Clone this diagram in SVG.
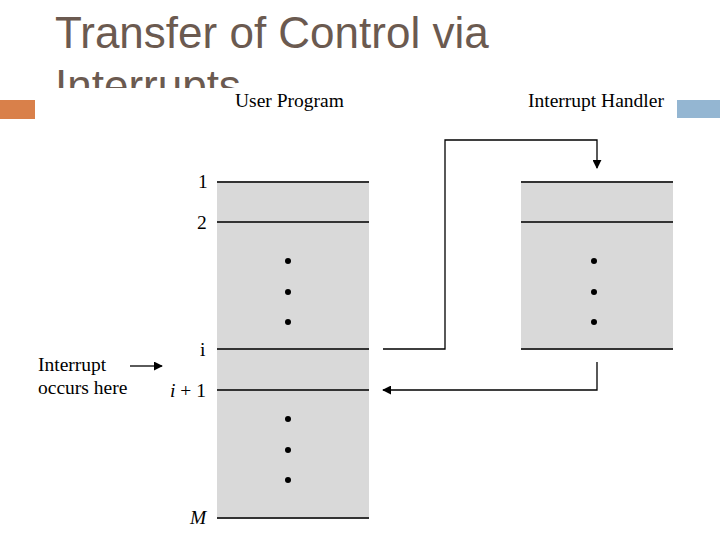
<svg xmlns="http://www.w3.org/2000/svg" width="720" height="540" viewBox="0 0 720 540">
<defs>
<style>
.t{font-family:"Liberation Serif",serif;font-size:19.5px;fill:#000}
.title{font-family:"Liberation Sans",sans-serif;font-size:44px;fill:#6b5a50}
.box{fill:#d9d9d9}
.ln{stroke:#333;stroke-width:2}
.c{fill:none;stroke:#000;stroke-width:1.3}
</style>
<marker id="ah" viewBox="0 0 10 10" refX="9" refY="5" markerWidth="9" markerHeight="9" markerUnits="userSpaceOnUse" orient="auto"><path d="M0,0L10,5L0,10z" fill="#000"/></marker>
</defs>
<rect width="720" height="540" fill="#fff"/>
<text class="title" x="55" y="48">Transfer of Control via</text>
<text class="title" x="55" y="101">Interrupts</text>
<rect x="35" y="88" width="642" height="452" fill="#fff"/>
<rect x="0" y="100" width="35" height="19" fill="#d9804a"/>
<rect x="677" y="100" width="43" height="18" fill="#94b6d2"/>
<g id="user">
<text class="t" x="235" y="107">User Program</text>
<rect class="box" x="217" y="182" width="152" height="336"/>
<line class="ln" x1="217" y1="182" x2="369" y2="182"/>
<line class="ln" x1="217" y1="222" x2="369" y2="222"/>
<line class="ln" x1="217" y1="349" x2="369" y2="349"/>
<line class="ln" x1="217" y1="390" x2="369" y2="390"/>
<line class="ln" x1="217" y1="518" x2="369" y2="518"/>
<text class="t" x="198" y="188">1</text>
<text class="t" x="197" y="229">2</text>
<text class="t" x="200" y="356">i</text>
<text class="t" x="170" y="397"><tspan font-style="italic">i</tspan> + 1</text>
<text class="t" x="190" y="524" font-style="italic">M</text>
<g fill="#000"><circle cx="288" cy="261" r="3"/><circle cx="288" cy="292" r="3"/><circle cx="288" cy="322" r="3"/><circle cx="288" cy="419" r="3"/><circle cx="288" cy="450" r="3"/><circle cx="288" cy="480" r="3"/></g>
</g>
<g id="handler">
<text class="t" x="528" y="107">Interrupt Handler</text>
<rect class="box" x="521" y="182" width="152" height="167"/>
<line class="ln" x1="521" y1="182" x2="673" y2="182"/>
<line class="ln" x1="521" y1="222" x2="673" y2="222"/>
<line class="ln" x1="521" y1="349" x2="673" y2="349"/>
<g fill="#000"><circle cx="594" cy="261" r="3"/><circle cx="594" cy="292" r="3"/><circle cx="594" cy="322" r="3"/></g>
</g>
<g id="label">
<text class="t" x="38" y="371">Interrupt</text>
<text class="t" x="38" y="394">occurs here</text>
</g>
<g id="connectors">
<path class="c" d="M130,366H162" marker-end="url(#ah)"/>
<path class="c" d="M383,349H445V140H597V168" marker-end="url(#ah)"/>
<path class="c" d="M597,362V390H383" marker-end="url(#ah)"/>
</g>
</svg>
